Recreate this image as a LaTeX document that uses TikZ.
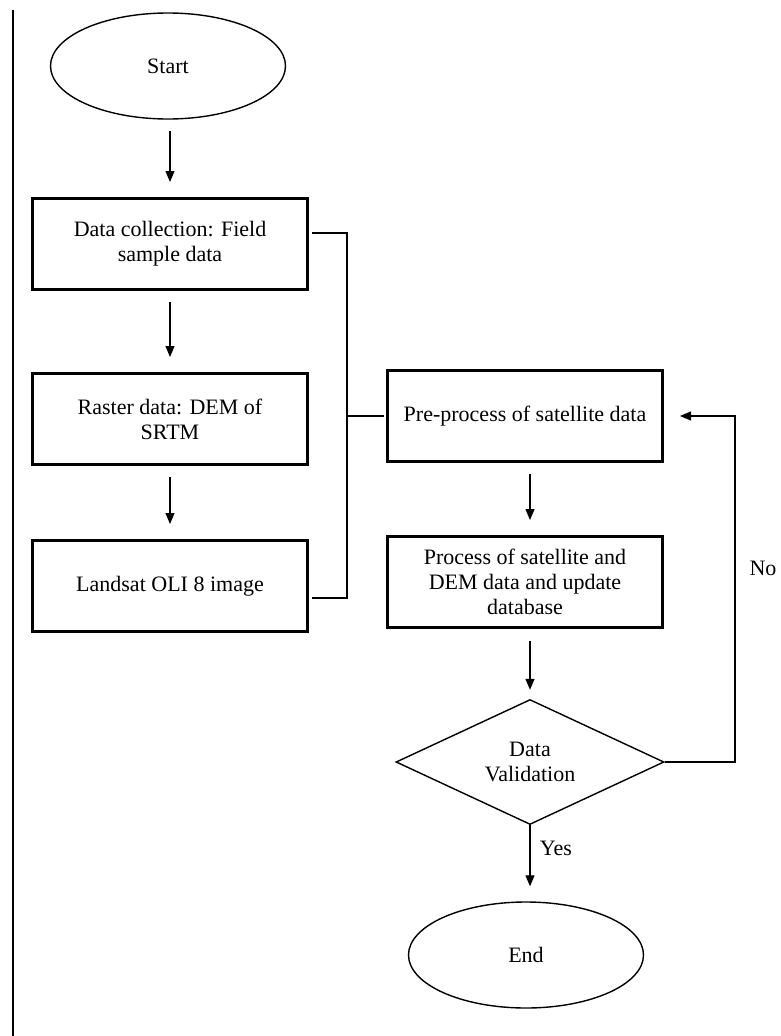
\documentclass[tikz,border=0pt]{standalone}
\usepackage{fontspec}
\setmainfont{Liberation Serif}
\usetikzlibrary{shapes.geometric,arrows.meta}

\newcommand*{\boxw}{275pt}
\newcommand*{\boxh}{91pt}
\newcommand*{\tip}{Triangle[length=11pt,width=9pt]}

\begin{document}
\begin{tikzpicture}
[
	x=1pt, y=-1pt,
	font=\fontsize{22}{25}\selectfont,
	procbox/.style={rectangle,draw,line width=3pt,minimum width=\boxw,minimum height=\boxh,align=center,inner sep=2pt},
	terminal/.style={ellipse,draw,line width=1.4pt,minimum width=235pt,minimum height=106pt},
	decision/.style={diamond,draw,line width=1.4pt,minimum width=268pt,minimum height=125pt,inner sep=0pt,aspect=2,align=center},
	flow/.style={-{\tip},line width=1.2pt,shorten <=11pt,shorten >=15pt},
	link/.style={line width=1.2pt}
]

	\useasboundingbox (0,0) rectangle (781,1036);

	% margin rule
	\draw[line width=1.6pt] (13,10) -- (13,1036);

	% left column
	\node[terminal] at (168,66) (start) {Start};
	\node[procbox] at (170,244) (collect) {Data collection: Field\\sample data};
	\node[procbox] at (170,419) (raster) {Raster data: DEM of\\SRTM};
	\node[procbox] at (170,586) (landsat) {Landsat OLI 8 image};

	\draw[flow] (start.south -| collect.center) -- (collect);
	\draw[flow] (collect) -- (raster);
	\draw[flow] (raster) -- (landsat);

	% right column
	\node[procbox] at (525,416) (prep) {Pre-process of satellite data};
	\node[procbox] at (525,582) (proc) {Process of satellite and\\DEM data and update\\database};
	\node[decision] at (530,762) (valid) {Data\\Validation};
	\node[terminal] at (526,955) (end) {End};

	\draw[flow] (prep.south -| valid.center) -- (proc.north -| valid.center);
	\draw[flow,shorten <=12pt,shorten >=9pt] (proc.south -| valid.center) -- (valid.north);
	\draw[flow,shorten <=0pt] (valid.south) -- (valid.south |- end.north) node[pos=0.3,right=6pt] (yes) {Yes};

	% inputs joined into the pre-process
	\coordinate (join) at (347,416);
	\draw[link] ([shift={(3pt,11pt)}]collect.east) -| (join);
	\draw[link] ([shift={(3pt,-12pt)}]landsat.east) -| (join);
	\draw[link,shorten >=2pt] (join) -- (prep.west);

	% loop back when validation fails
	\coordinate (noturn) at (735,762);
	\draw[link,-{\tip},shorten >=16pt] (valid.east) -- (noturn) |- (prep.east);
	\node at (763,568) (no) {No};

\end{tikzpicture}
\end{document}
